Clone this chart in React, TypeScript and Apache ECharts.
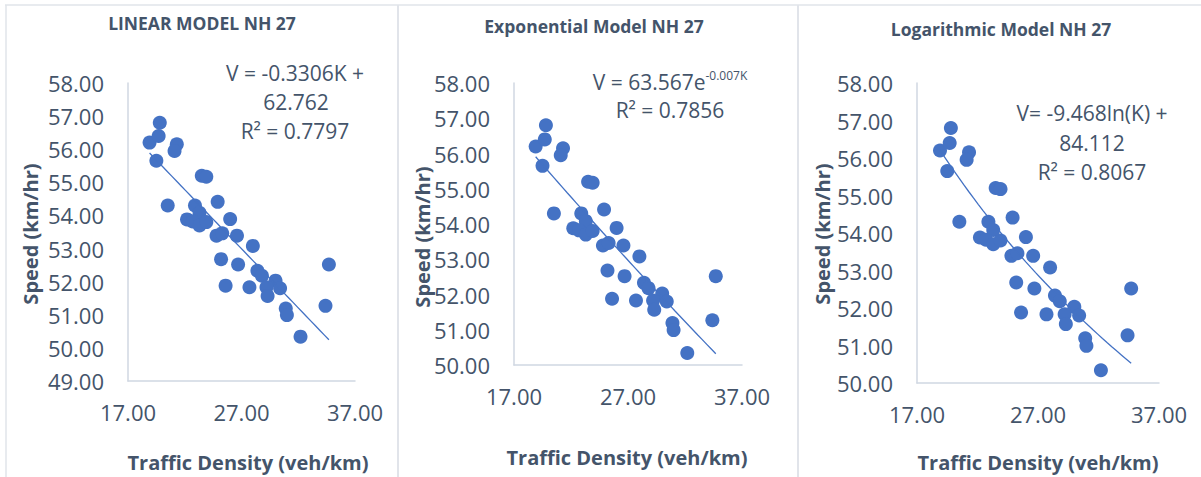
import React, { useEffect, useRef } from "react";
import * as echarts from "echarts";

const density = [18.9, 19.8, 19.7, 19.5, 21.3, 21.1, 20.5, 23.5, 23.9, 22.9, 23.3, 22.2, 22.7, 23.3, 23.9, 24.9, 26.0, 24.8, 25.3, 26.6, 28.0, 25.2, 26.7, 25.6, 27.7, 28.4, 28.8, 30.0, 29.2, 30.4, 29.3, 30.9, 31.0, 32.2, 34.4, 34.7];
const speed = [56.2, 56.8, 56.4, 55.65, 56.15, 55.95, 54.3, 55.2, 55.17, 54.3, 54.08, 53.88, 53.82, 53.7, 53.8, 54.41, 53.89, 53.39, 53.46, 53.39, 53.08, 52.68, 52.52, 51.88, 51.83, 52.33, 52.18, 52.03, 51.83, 51.8, 51.57, 51.19, 50.99, 50.34, 51.27, 52.52];

const titles = ["LINEAR MODEL NH 27", "Exponential Model NH 27", "Logarithmic Model NH 27"];
const xTicks = [17, 27, 37];
const yMins = [49, 50, 50];
const yMax = 58;
const xAxisTitle = "Traffic Density (veh/km)";
const yAxisTitle = "Speed (km/hr)";

const BLUE = "#4472c4";
const TEXT = "#44546a";
const FONT = "Open Sans";

function linFit(xs: number[], ys: number[]) {
  const n = xs.length;
  const mx = xs.reduce((a, b) => a + b, 0) / n;
  const my = ys.reduce((a, b) => a + b, 0) / n;
  let sxy = 0, sxx = 0;
  for (let i = 0; i < n; i++) {
    sxy += (xs[i] - mx) * (ys[i] - my);
    sxx += (xs[i] - mx) * (xs[i] - mx);
  }
  const b = sxy / sxx;
  return { a: my - b * mx, b };
}

function trend(kind: number) {
  const xmin = Math.min(...density);
  const xmax = Math.max(...density);
  let f: (x: number) => number;
  if (kind === 0) {
    const { a, b } = linFit(density, speed);
    f = (x) => a + b * x;
  } else if (kind === 1) {
    const { a, b } = linFit(density, speed.map((v) => Math.log(v)));
    f = (x) => Math.exp(a + b * x);
  } else {
    const { a, b } = linFit(density.map((v) => Math.log(v)), speed);
    f = (x) => a + b * Math.log(x);
  }
  const pts: number[][] = [];
  const N = 40;
  for (let i = 0; i <= N; i++) {
    const x = xmin + ((xmax - xmin) * i) / N;
    pts.push([x, f(x)]);
  }
  return pts;
}

const grids = [
  { left: 128, top: 83, width: 227, height: 298 },
  { left: 514, top: 83, width: 228, height: 282 },
  { left: 917, top: 83, width: 242, height: 300 },
];

export default function App() {
  const ref = useRef<HTMLDivElement>(null);
  useEffect(() => {
    if (!ref.current) return;
    const chart = echarts.init(ref.current, null, { renderer: "svg" });
    const points = density.map((x, i) => [x, speed[i]]);
    const axisLineStyle = { color: "#d0d7e2", width: 1.5 };
    const option: any = {
      animation: false,
      backgroundColor: "#ffffff",
      grid: grids.map((g) => ({ ...g, containLabel: false })),
      xAxis: grids.map((_, i) => ({
        type: "value",
        gridIndex: i,
        min: 17,
        max: 37,
        axisLine: { show: true, lineStyle: axisLineStyle },
        axisTick: { show: false },
        splitLine: { show: false },
        axisLabel: {
          customValues: xTicks,
          formatter: (v: number) => v.toFixed(2),
          color: TEXT,
          fontFamily: FONT,
          fontSize: 22,
          margin: 20,
        },
      })),
      yAxis: grids.map((_, i) => ({
        type: "value",
        gridIndex: i,
        min: yMins[i],
        max: yMax,
        interval: 1,
        axisLine: { show: true, lineStyle: axisLineStyle },
        axisTick: { show: false },
        splitLine: { show: false },
        axisLabel: {
          formatter: (v: number) => v.toFixed(2),
          color: TEXT,
          fontFamily: FONT,
          fontSize: 22,
          margin: 24,
        },
      })),
      series: [
        ...grids.map((_, i) => ({
          type: "scatter",
          xAxisIndex: i,
          yAxisIndex: i,
          data: points,
          symbolSize: 14,
          itemStyle: { color: BLUE, opacity: 1 },
          z: 3,
        })),
        ...grids.map((_, i) => ({
          type: "line",
          xAxisIndex: i,
          yAxisIndex: i,
          data: trend(i),
          showSymbol: false,
          symbol: "none",
          smooth: false,
          lineStyle: { color: BLUE, width: 1.3 },
          z: 4,
        })),
      ],
      graphic: [
        { type: "line", shape: { x1: 5, y1: 5, x2: 1201, y2: 5 }, style: { stroke: "#e1e4ea", lineWidth: 1.5 } },
        { type: "line", shape: { x1: 6, y1: 5, x2: 6, y2: 477 }, style: { stroke: "#e1e4ea", lineWidth: 1.5 } },
        { type: "line", shape: { x1: 398, y1: 5, x2: 398, y2: 477 }, style: { stroke: "#e1e4ea", lineWidth: 2 } },
        { type: "line", shape: { x1: 798, y1: 5, x2: 798, y2: 477 }, style: { stroke: "#e1e4ea", lineWidth: 2 } },
        // titles
        ...[
          [202, 23],
          [594, 26],
          [1001, 29],
        ].map((p, i) => ({
          type: "text",
          x: p[0],
          y: p[1],
          style: { text: titles[i], align: "center", verticalAlign: "middle", fill: TEXT, font: `bold 17.5px "${FONT}"` },
        })),
        // x axis titles
        ...[
          [248, 462],
          [627, 457],
          [1038, 462],
        ].map((p) => ({
          type: "text",
          x: p[0],
          y: p[1],
          style: { text: xAxisTitle, align: "center", verticalAlign: "middle", fill: TEXT, font: `bold 20px "${FONT}"` },
        })),
        // y axis titles
        ...[
          [30, 234],
          [422, 237],
          [822, 234],
        ].map((p) => ({
          type: "text",
          x: p[0],
          y: p[1],
          rotation: Math.PI / 2,
          style: { text: yAxisTitle, align: "center", verticalAlign: "middle", fill: TEXT, font: `bold 20px "${FONT}"` },
        })),
        // equations
        ...[
          ["V = -0.3306K +", 295, 73],
          ["62.762", 296, 102],
          ["R² = 0.7797", 295, 131],
          ["V= -9.468ln(K) +", 1092, 113],
          ["84.112", 1092, 143],
          ["R² = 0.8067", 1092, 172],
          ["R² = 0.7856", 670, 110],
        ].map((t: any) => ({
          type: "text",
          x: t[1],
          y: t[2],
          style: { text: t[0], align: "center", verticalAlign: "middle", fill: TEXT, font: `21px "${FONT}"` },
        })),
        {
          type: "text",
          x: 670,
          y: 81,
          style: {
            text: "{a|V = 63.567e}{s|-0.007K}",
            align: "center",
            verticalAlign: "middle",
            rich: {
              a: { fill: TEXT, fontFamily: FONT, fontSize: 21, verticalAlign: "bottom" },
              s: { fill: TEXT, fontFamily: FONT, fontSize: 12, verticalAlign: "top", padding: [0, 0, 11, 0] },
            },
          },
        },
      ],
    };
    chart.setOption(option);
    return () => chart.dispose();
  }, []);
  return <div ref={ref} style={{ position: "fixed", left: 0, top: 0, width: 1201, height: 477, background: "#fff" }} />;
}
